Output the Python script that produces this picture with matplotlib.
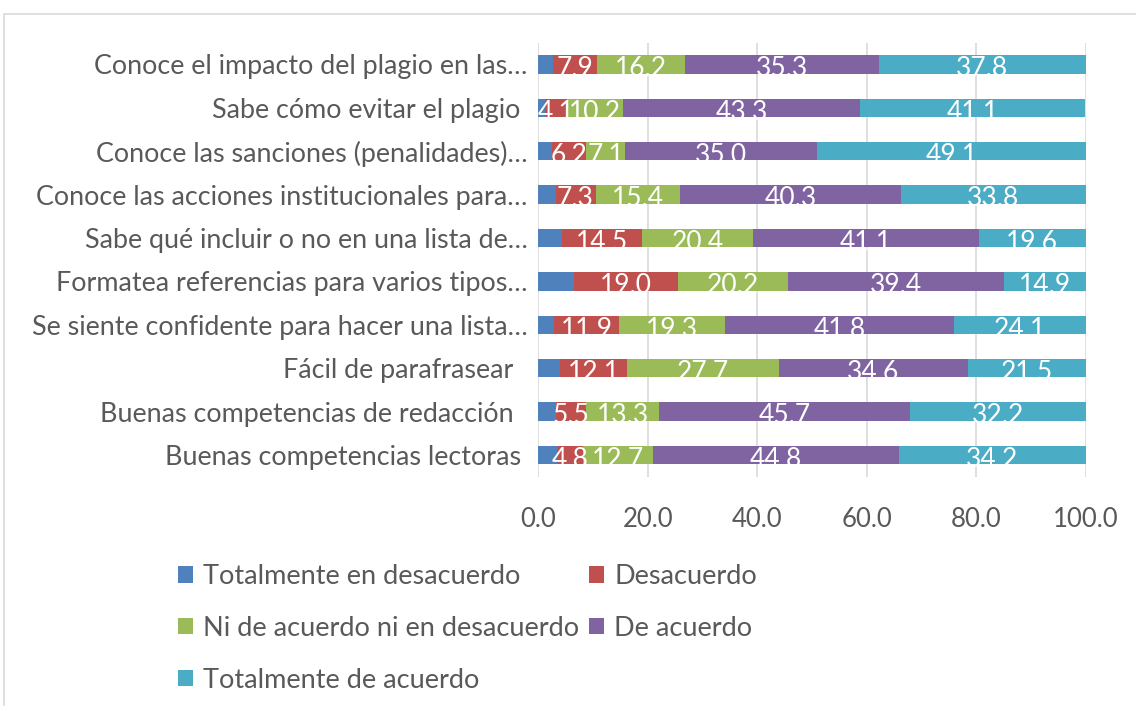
import matplotlib
matplotlib.use("Agg")
import matplotlib.pyplot as plt
from matplotlib.patches import Patch, Rectangle
import numpy as np

plt.rcParams['font.family'] = ['Lato', 'DejaVu Sans']

categories = [
    "Conoce el impacto del plagio en las…",
    "Sabe cómo evitar el plagio ",
    "Conoce las sanciones (penalidades)…",
    "Conoce las acciones institucionales para…",
    "Sabe qué incluir o no en una lista de…",
    "Formatea referencias para varios tipos…",
    "Se siente confidente para hacer una lista…",
    "Fácil de parafrasear  ",
    "Buenas competencias de redacción  ",
    "Buenas competencias lectoras ",
]
series_names = ["Totalmente en desacuerdo", "Desacuerdo",
                "Ni de acuerdo ni en desacuerdo", "De acuerdo",
                "Totalmente de acuerdo"]
tot_desacuerdo = [2.8, 1.2, 2.6, 3.2, 4.4, 6.5, 2.9, 4.1, 3.3, 3.5]
desacuerdo     = [7.9, 4.1, 6.2, 7.3, 14.5, 19.0, 11.9, 12.1, 5.5, 4.8]
ni_ni          = [16.2, 10.2, 7.1, 15.4, 20.4, 20.2, 19.3, 27.7, 13.3, 12.7]
de_acuerdo     = [35.3, 43.3, 35.0, 40.3, 41.1, 39.4, 41.8, 34.6, 45.7, 44.8]
tot_acuerdo    = [37.8, 41.1, 49.1, 33.8, 19.6, 14.9, 24.1, 21.5, 32.2, 34.2]
series = [tot_desacuerdo, desacuerdo, ni_ni, de_acuerdo, tot_acuerdo]
show_labels = [False, True, True, True, True]
colors = ["#4F81BD", "#C0504D", "#9BBB59", "#8064A2", "#4BACC6"]
xticks = [0, 20, 40, 60, 80, 100]

W, H = 1136, 706
fig = plt.figure(figsize=(W/100, H/100), dpi=100)
ax = fig.add_axes([538/W, 1 - 476.7/H, (1086-538)/W, (476.7-42.7)/H])

# chart frame
fig.patches.append(Rectangle((4/W, -0.1), 1.2, 1 - 14/H + 0.1, transform=fig.transFigure,
                             fill=False, edgecolor="#d9d9d9", linewidth=1.2))

y = np.arange(len(categories))
left = np.zeros(len(categories))
handles = []
for vals, name, col, show in zip(series, series_names, colors, show_labels):
    vals = np.array(vals)
    ax.barh(y, vals, left=left, height=0.42, color=col, zorder=3, label=name)
    if show:
        for yi, l, v in zip(y, left, vals):
            ax.text(l + v/2, yi + 0.1, f"{v:.1f}", ha="center", va="center",
                    color="white", fontsize=19, zorder=4)
    left += vals
    handles.append(Patch(facecolor=col, edgecolor='none', label=name))

ax.set_xlim(0, 100)
ax.set_ylim(len(categories) - 0.5, -0.5)
ax.set_xticks(xticks)
ax.set_xticklabels([f"{t:.1f}" for t in xticks], fontsize=18.5, color="#595959")
ax.set_yticks(y)
ax.set_yticklabels(categories, fontsize=19.4, color="#595959")
ax.tick_params(axis="both", length=0)
ax.tick_params(axis="y", pad=7.5)
ax.tick_params(axis="x", pad=22)
ax.grid(axis="x", color="#d9d9d9", linewidth=1.2, zorder=0)
for s in ax.spines.values():
    s.set_visible(False)

order = [0, 2, 4, 1, 3]
fig.legend([handles[i] for i in order], [series_names[i] for i in order],
           loc="upper left", bbox_to_anchor=(178/W, 1 - 564/H), bbox_transform=fig.transFigure,
           ncol=2, frameon=False, fontsize=19.5, labelcolor="#595959",
           handlelength=0.56, handleheight=0.56, handletextpad=0.37,
           columnspacing=0.36, labelspacing=0.99, borderpad=0, borderaxespad=0)

fig.savefig("out.png", dpi=100, facecolor="white")
